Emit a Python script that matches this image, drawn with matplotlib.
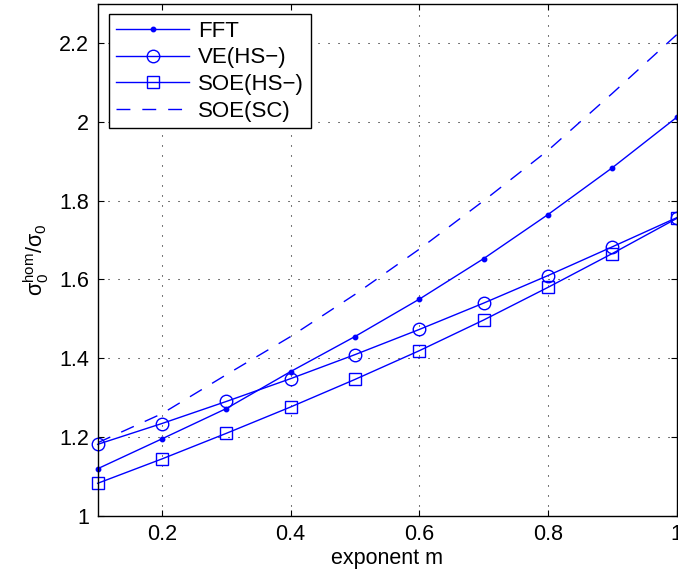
import matplotlib
matplotlib.use('Agg')
import matplotlib.pyplot as plt

# exponent m
m_values = [0.1, 0.2, 0.3, 0.4, 0.5, 0.6, 0.7, 0.8, 0.9, 1.0]

# normalized yield stress
fft_values = [1.119, 1.195, 1.272, 1.366, 1.455, 1.550, 1.653, 1.765, 1.884, 2.012]
ve_hs_values = [1.181, 1.234, 1.290, 1.348, 1.409, 1.473, 1.540, 1.610, 1.683, 1.757]
soe_hs_values = [1.082, 1.144, 1.209, 1.276, 1.346, 1.419, 1.497, 1.580, 1.666, 1.755]
soe_sc_values = [1.185, 1.259, 1.358, 1.455, 1.562, 1.677, 1.800, 1.928, 2.073, 2.222]

series_labels = ['FFT', 'VE(HS\u2212)', 'SOE(HS\u2212)', 'SOE(SC)']

x_ticks = [0.2, 0.4, 0.6, 0.8, 1.0]
x_tick_labels = ['0.2', '0.4', '0.6', '0.8', '1']
y_ticks = [1.0, 1.2, 1.4, 1.6, 1.8, 2.0, 2.2]
y_tick_labels = ['1', '1.2', '1.4', '1.6', '1.8', '2', '2.2']

plt.rcParams['font.family'] = ['Liberation Sans', 'DejaVu Sans']
plt.rcParams['mathtext.fontset'] = 'custom'
plt.rcParams['mathtext.rm'] = 'Liberation Sans'
plt.rcParams['mathtext.it'] = 'Liberation Sans:italic'
plt.rcParams['font.size'] = 15.5

blue = '#0000ff'

fig = plt.figure(figsize=(6.78, 5.78), dpi=100)
ax = fig.add_axes([0.144, 0.108, 0.854, 0.885])

ax.plot(m_values, fft_values, color=blue, lw=1.0, marker='o', ms=3.2,
        mfc=blue, mec=blue, label=series_labels[0], clip_on=False)
ax.plot(m_values, ve_hs_values, color=blue, lw=1.0, marker='o', ms=9,
        mfc='none', mec=blue, mew=1.0, label=series_labels[1], clip_on=False)
ax.plot(m_values, soe_hs_values, color=blue, lw=1.0, marker='s', ms=8,
        mfc='none', mec=blue, mew=1.0, label=series_labels[2], clip_on=False)
ax.plot(m_values, soe_sc_values, color=blue, lw=1.0, linestyle=(0, (10, 8.6)),
        label=series_labels[3])

ax.set_xlim(0.1, 1.0)
ax.set_ylim(1.0, 2.3)
ax.set_xticks(x_ticks)
ax.set_xticklabels(x_tick_labels)
ax.set_yticks(y_ticks)
ax.set_yticklabels(y_tick_labels)

ax.tick_params(direction='in', top=True, right=True, length=4.5, width=0.8, pad=6)
for spine in ax.spines.values():
    spine.set_linewidth(1.0)

# MATLAB style dotted grid
ax.grid(True, color='black', linestyle=(0, (1, 8.6)), linewidth=0.75)

ax.set_xlabel('exponent m', labelpad=2)
ax.set_ylabel('σ$_0^{\\mathrm{hom}}$/σ$_0$', labelpad=6)

leg = ax.legend(loc='upper left', bbox_to_anchor=(0.020, 0.980), borderaxespad=0,
                fancybox=False, framealpha=1, edgecolor='black', fontsize=16,
                handlelength=3.3, handletextpad=0.4, labelspacing=0.25,
                borderpad=0.3)
leg.get_frame().set_linewidth(1.0)

fig.savefig('out.png', dpi=100)
plt.close(fig)
